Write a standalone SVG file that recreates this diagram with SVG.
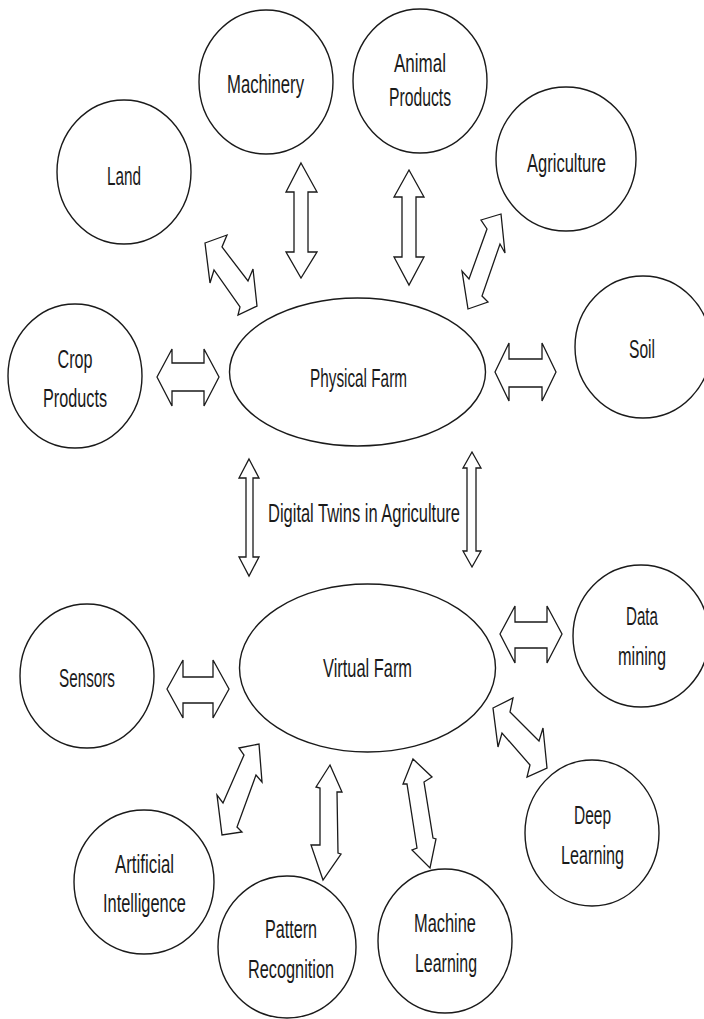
<svg xmlns="http://www.w3.org/2000/svg" width="704" height="1019" viewBox="0 0 704 1019">
  <style>
    .node { fill: #ffffff; stroke: #1a1a1a; stroke-width: 1.4; }
    .arrow { fill: #ffffff; stroke: #1a1a1a; stroke-width: 1.3; stroke-linejoin: miter; }
    .label { font-family: "Liberation Sans", Arial, sans-serif; font-size: 25px; fill: #1a1a1a; text-anchor: middle; }
  </style>
  <rect width="704" height="1019" fill="#ffffff"/>

  <!-- block double arrows -->
  <g id="connectors">
    <polygon class="arrow" points="301,163 317,192 308,192 308,252 317,252 301,278 286,252 294,252 294,192 286,192"/>
    <polygon class="arrow" points="409,170 424,197 416,197 416,257 424,257 409,285 394,257 402,257 402,197 394,197"/>
    <polygon class="arrow" points="205,243 227,235 222,247 248,281 253,269 257,306 238,315 240,307 214,270 210,283"/>
    <polygon class="arrow" points="481,220 501,214 505,253 500,244 482,296 488,302 468,309 462,271 469,279 487,229"/>
    <polygon class="arrow" points="157,377 172,349 172,363 204,363 204,349 219,377 204,406 204,391 172,391 172,406"/>
    <polygon class="arrow" points="495,372 509,343 509,359 542,359 542,343 556,372 542,401 542,387 509,387 509,401"/>
    <polygon class="arrow" points="249,459 259,478 253,478 253,557 259,557 249,576 239,557 246,557 246,478 239,478"/>
    <polygon class="arrow" points="472,452 481,468 476,468 476,551 481,551 472,567 463,551 467,551 467,468 463,468"/>
    <polygon class="arrow" points="167,689 183,660 183,677 213,677 213,660 229,689 213,718 213,703 183,703 183,718"/>
    <polygon class="arrow" points="500,634 515,606 515,622 547,622 547,606 562,634 547,663 547,648 515,648 515,663"/>
    <polygon class="arrow" points="239,748 259,744 262,782 256,775 237,827 242,832 222,835 217,795 223,803 244,755"/>
    <polygon class="arrow" points="330,765 342,792 337,792 338,853 341,854 323,880 311,845 320,845 320,788 316,787"/>
    <polygon class="arrow" points="413,759 432,777 424,782 433,838 436,839 430,868 412,850 417,848 407,784 403,784"/>
    <polygon class="arrow" points="493,708 513,698 510,712 539,741 543,728 547,768 527,777 530,765 502,733 498,747"/>
  </g>

  <text class="label" x="364" y="522" textLength="192" lengthAdjust="spacingAndGlyphs">Digital Twins in Agriculture</text>

  <g id="land">
    <ellipse class="node" cx="124" cy="172" rx="67" ry="72"/>
    <text class="label" x="124" y="185" textLength="34" lengthAdjust="spacingAndGlyphs">Land</text>
  </g>
  <g id="machinery">
    <ellipse class="node" cx="266" cy="82" rx="67" ry="72"/>
    <text class="label" x="265.5" y="93" textLength="77" lengthAdjust="spacingAndGlyphs">Machinery</text>
  </g>
  <g id="animal-products">
    <ellipse class="node" cx="420" cy="81" rx="67" ry="72"/>
    <text class="label" x="420" y="72" textLength="52" lengthAdjust="spacingAndGlyphs">Animal</text>
    <text class="label" x="420" y="106" textLength="62" lengthAdjust="spacingAndGlyphs">Products</text>
  </g>
  <g id="agriculture">
    <ellipse class="node" cx="566" cy="159" rx="70" ry="72"/>
    <text class="label" x="566.5" y="172" textLength="79" lengthAdjust="spacingAndGlyphs">Agriculture</text>
  </g>
  <g id="crop-products">
    <ellipse class="node" cx="75" cy="376" rx="67" ry="72"/>
    <text class="label" x="75" y="368" textLength="35" lengthAdjust="spacingAndGlyphs">Crop</text>
    <text class="label" x="75" y="407" textLength="64" lengthAdjust="spacingAndGlyphs">Products</text>
  </g>
  <g id="physical-farm">
    <ellipse class="node" cx="357.5" cy="372" rx="128" ry="74"/>
    <text class="label" x="358.5" y="387" textLength="97" lengthAdjust="spacingAndGlyphs">Physical Farm</text>
  </g>
  <g id="soil">
    <ellipse class="node" cx="643" cy="347" rx="68" ry="71"/>
    <text class="label" x="642" y="358" textLength="26" lengthAdjust="spacingAndGlyphs">Soil</text>
  </g>
  <g id="sensors">
    <ellipse class="node" cx="87" cy="676" rx="67" ry="72"/>
    <text class="label" x="87" y="687" textLength="56" lengthAdjust="spacingAndGlyphs">Sensors</text>
  </g>
  <g id="virtual-farm">
    <ellipse class="node" cx="367.5" cy="668" rx="128" ry="84"/>
    <text class="label" x="367.5" y="677" textLength="89" lengthAdjust="spacingAndGlyphs">Virtual Farm</text>
  </g>
  <g id="data-mining">
    <ellipse class="node" cx="641" cy="636" rx="68" ry="71"/>
    <text class="label" x="642" y="625" textLength="32" lengthAdjust="spacingAndGlyphs">Data</text>
    <text class="label" x="642" y="665" textLength="48" lengthAdjust="spacingAndGlyphs">mining</text>
  </g>
  <g id="artificial-intelligence">
    <ellipse class="node" cx="144" cy="882" rx="70" ry="72"/>
    <text class="label" x="144.5" y="873" textLength="59" lengthAdjust="spacingAndGlyphs">Artificial</text>
    <text class="label" x="144.5" y="912" textLength="83" lengthAdjust="spacingAndGlyphs">Intelligence</text>
  </g>
  <g id="pattern-recognition">
    <ellipse class="node" cx="287" cy="947" rx="69" ry="71"/>
    <text class="label" x="291" y="938" textLength="52" lengthAdjust="spacingAndGlyphs">Pattern</text>
    <text class="label" x="291" y="978" textLength="86" lengthAdjust="spacingAndGlyphs">Recognition</text>
  </g>
  <g id="machine-learning">
    <ellipse class="node" cx="445" cy="941" rx="67" ry="72"/>
    <text class="label" x="445" y="932" textLength="62" lengthAdjust="spacingAndGlyphs">Machine</text>
    <text class="label" x="446" y="972" textLength="62" lengthAdjust="spacingAndGlyphs">Learning</text>
  </g>
  <g id="deep-learning">
    <ellipse class="node" cx="592" cy="833" rx="67" ry="73"/>
    <text class="label" x="592.5" y="824" textLength="37" lengthAdjust="spacingAndGlyphs">Deep</text>
    <text class="label" x="592.5" y="864" textLength="63" lengthAdjust="spacingAndGlyphs">Learning</text>
  </g>
</svg>
